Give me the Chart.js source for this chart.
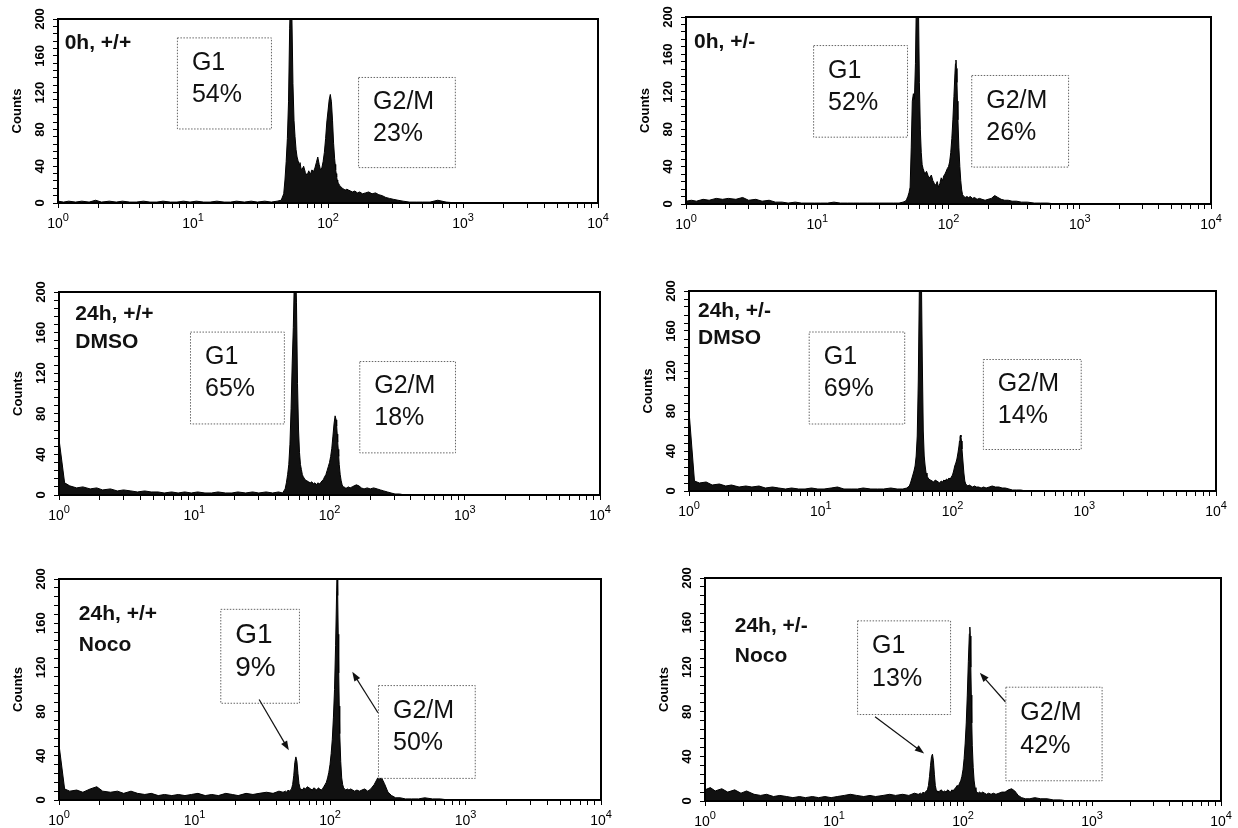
<!DOCTYPE html>
<html>
<head>
<meta charset="utf-8">
<script src="https://cdn.jsdelivr.net/npm/chart.js@4.4.1/dist/chart.umd.min.js"></script>
<style>
  html, body { margin: 0; padding: 0; background: #fff; }
  body { width: 1238px; height: 828px; position: relative; overflow: hidden; }
  canvas { position: absolute; }
</style>
</head>
<body>
<script>
const channels = [
  1, 1.1, 1.2, 1.35, 1.5, 1.7, 1.9, 2.1, 2.4, 2.7,
  3, 3.4, 3.8, 4.3, 4.8, 5.4, 6, 6.8, 7.6, 8.5,
  9.5, 10.6, 12, 13.4, 15, 17, 19, 21, 24, 27,
  30, 34, 38, 42, 45, 47, 48, 49, 50, 51,
  52, 53, 54, 55, 56, 57, 58, 59, 60, 61,
  62, 63, 64, 66, 68, 70, 72, 74, 76, 78,
  80, 82, 84, 86, 88, 90, 92, 94, 96, 98,
  100, 102, 104, 106, 108, 110, 112, 113, 114, 115,
  116, 117, 118, 120, 122, 124, 126, 128, 131, 134,
  138, 142, 147, 152, 158, 165, 172, 180, 190, 200,
  212, 225, 238, 252, 268, 285, 305, 330, 360, 400,
  450, 500, 570, 650, 750, 900, 1100, 1400, 2000, 3000,
  5000, 10000
];

// 0h, +/+
const counts0hWt = [
  2, 1, 2, 1, 2, 1, 3, 1, 2, 1,
  2, 1, 1, 2, 1, 1, 2, 1, 1, 2,
  1, 2, 1, 1, 2, 1, 1, 2, 1, 2,
  1, 2, 1, 2, 3, 10, 25, 45, 70, 110,
  190, 235, 205, 130, 90, 72, 58, 50, 46, 42,
  44, 38, 36, 40, 33, 30, 35, 31, 36, 34,
  38, 44, 50, 42, 36, 38, 45, 55, 70, 88,
  100, 112, 118, 110, 90, 65, 48, 42, 36, 32,
  28, 25, 23, 21, 19, 18, 17, 16, 15, 14,
  15, 14, 13, 12, 13, 11, 12, 10, 11, 12,
  10, 11, 9, 8, 6, 5, 4, 3, 2, 1,
  1, 1, 1, 3, 1, 0, 0, 0, 0, 0,
  0, 0
];
// 0h, +/-
const counts0hHet = [
  3, 4, 3, 5, 4, 6, 5, 6, 5, 7,
  4, 5, 3, 4, 2, 2, 1, 2, 1, 1,
  1, 1, 1, 2, 1, 1, 1, 1, 1, 1,
  1, 1, 1, 1, 2, 3, 5, 8, 12, 18,
  60, 110, 118, 112, 150, 225, 240, 215, 130, 80,
  55, 42, 38, 32, 35, 30, 28, 31, 25, 22,
  20, 24, 18, 22, 28, 25, 30, 32, 35, 38,
  40, 45, 55, 70, 90, 115, 140, 150, 154, 145,
  130, 110, 90, 60, 40, 25, 15, 10, 8, 7,
  8, 7, 8, 6, 7, 5, 6, 5, 4, 5,
  6, 9, 7, 5, 4, 4, 3, 3, 2, 2,
  1, 1, 1, 0, 0, 0, 0, 0, 0, 0,
  0, 0
];
// 24h, +/+ DMSO
const counts24hWtDmso = [
  55, 12, 9, 7, 8, 6, 7, 5, 6, 4,
  5, 4, 3, 4, 3, 3, 2, 3, 2, 3,
  2, 3, 2, 2, 3, 2, 2, 3, 2, 3,
  2, 3, 2, 3, 2, 6, 12, 20, 30, 50,
  85, 130, 165, 215, 230, 190, 110, 65, 42, 30,
  25, 20, 18, 15, 14, 13, 12, 13, 11, 12,
  10, 12, 11, 12, 14, 15, 18, 20, 24, 28,
  32, 38, 46, 58, 70, 78, 74, 68, 60, 52,
  45, 38, 30, 20, 14, 10, 8, 8, 7, 7,
  8, 7, 8, 9, 10, 9, 7, 6, 7, 6,
  7, 6, 5, 4, 3, 2, 1, 1, 0, 0,
  0, 0, 0, 0, 0, 0, 0, 0, 0, 0,
  0, 0
];
// 24h, +/- DMSO
const counts24hHetDmso = [
  80, 10, 8, 9, 6, 7, 5, 6, 4, 5,
  4, 5, 3, 4, 3, 2, 3, 2, 2, 3,
  2, 2, 3, 4, 2, 2, 2, 3, 2, 2,
  2, 3, 2, 2, 3, 5, 8, 12, 16, 20,
  25, 35, 55, 110, 200, 235, 220, 130, 60, 35,
  25, 18, 15, 12, 11, 10, 9, 11, 10, 9,
  8, 10, 9, 11, 10, 12, 11, 13, 12, 14,
  16, 20, 25, 28, 32, 38, 45, 50, 54, 56,
  54, 50, 42, 30, 18, 10, 7, 6, 5, 6,
  5, 4, 5, 4, 4, 3, 4, 3, 4, 5,
  4, 4, 3, 3, 2, 1, 1, 1, 0, 0,
  0, 0, 0, 0, 0, 0, 0, 0, 0, 0,
  0, 0
];
// 24h, +/+ Noco
const counts24hWtNoco = [
  50, 10, 8, 9, 7, 10, 12, 8, 7, 8,
  6, 8, 6, 5, 6, 4, 5, 4, 5, 4,
  5, 6, 4, 5, 4, 6, 5, 4, 6, 5,
  6, 7, 6, 8, 7, 8, 7, 9, 8, 9,
  10, 14, 22, 34, 39, 35, 24, 15, 11, 9,
  10, 9, 11, 10, 12, 11, 10, 9, 11, 10,
  9, 11, 10, 9, 10, 12, 14, 16, 20, 25,
  32, 42, 55, 75, 100, 140, 190, 215, 185, 150,
  115, 85, 60, 35, 20, 14, 11, 10, 9, 10,
  9, 10, 9, 8, 9, 8, 9, 10, 8, 10,
  14, 20, 21, 15, 7, 4, 2, 2, 1, 1,
  1, 2, 1, 1, 0, 0, 0, 0, 0, 0,
  0, 0
];
// 24h, +/- Noco
const counts24hHetNoco = [
  10, 12, 9, 11, 8, 10, 7, 9, 6, 5,
  6, 4, 5, 4, 3, 4, 3, 4, 3, 4,
  3, 4, 5, 6, 5, 4, 5, 4, 5, 6,
  5, 6, 5, 7, 6, 7, 6, 8, 7, 8,
  9, 10, 14, 22, 32, 40, 42, 36, 24, 14,
  10, 9, 8, 9, 10, 8, 9, 8, 10, 9,
  8, 10, 9, 11, 12, 14, 13, 16, 18, 22,
  28, 38, 52, 70, 95, 125, 150, 156, 148, 120,
  95, 70, 50, 30, 18, 12, 9, 8, 7, 8,
  7, 8, 7, 6, 7, 6, 7, 6, 7, 8,
  8, 10, 11, 9, 5, 3, 2, 2, 3, 2,
  2, 1, 1, 0, 0, 0, 0, 0, 0, 0,
  0, 0
];

const conditionLabels = [
  ['0h, +/+'], ['0h, +/-'],
  ['24h, +/+', 'DMSO'], ['24h, +/-', 'DMSO'],
  ['24h, +/+', 'Noco'], ['24h, +/-', 'Noco']
];
const g1Pct = ['54%', '52%', '65%', '69%', '9%', '13%'];
const g2Pct = ['23%', '26%', '18%', '14%', '50%', '42%'];

// ticks
const yTickLabels = [0, 40, 80, 120, 160, 200];
const xMajorTicks = [1, 10, 100, 1000, 10000];
const xTickExponents = ['0', '1', '2', '3', '4'];
const xMinorTicks = [
  1, 2, 3, 4, 5, 6, 7, 8, 9,
  10, 20, 30, 40, 50, 60, 70, 80, 90,
  100, 200, 300, 400, 500, 600, 700, 800, 900,
  1000, 2000, 3000, 4000, 5000, 6000, 7000, 8000, 9000,
  10000
];

// --- Layout (pixeles de pagina y posiciones en coordenadas de datos) ---
const FONT = "'Liberation Sans', Arial, sans-serif";
const Y_W = 52, X_H = 30, PAD_T = 14, PAD_R = 18;

const panels = [
  { counts: counts0hWt, area: [58, 598, 19, 203],
    label: [[1.12, 174]], g1Box: [7.6, 37.8, 180, 81], g2Box: [167, 870, 137, 39] },
  { counts: counts0hHet, area: [686, 1211, 17, 204],
    label: [[1.15, 173]], g1Box: [9.3, 48.3, 170, 72], g2Box: [149, 815, 138, 40] },
  { counts: counts24hWtDmso, area: [59, 600, 292, 495],
    label: [[1.32, 178], [1.32, 151]], g1Box: [9.3, 46, 161, 70.5], g2Box: [166, 847, 132, 42] },
  { counts: counts24hHetDmso, area: [689, 1216, 291, 491],
    label: [[1.17, 180], [1.17, 153]], g1Box: [8.1, 43, 159.5, 67.5], g2Box: [170, 940, 132, 42] },
  { counts: counts24hWtNoco, area: [59, 601, 579, 800],
    label: [[1.4, 168], [1.4, 140]], g1Box: [15.5, 59, 173, 88], g2Box: [226, 1170, 104, 20], g1Size: 28,
    arrows: [[30, 91, 49.7, 45], [226, 79, 146, 116]] },
  { counts: counts24hHetNoco, area: [705, 1221, 578, 801],
    label: [[1.7, 157], [1.7, 130]], g1Box: [15.1, 79.4, 162, 78], g2Box: [213, 1187, 102.5, 18.6],
    arrows: [[20.8, 75.6, 50, 42.6], [213, 89, 135, 115]] }
];

function drawBox(ctx, x, y, b, lines, size) {
  const x0 = x.getPixelForValue(b[0]), x1 = x.getPixelForValue(b[1]);
  const y0 = y.getPixelForValue(b[2]), y1 = y.getPixelForValue(b[3]);
  ctx.save();
  ctx.fillStyle = '#fff';
  ctx.fillRect(x0, y0, x1 - x0, y1 - y0);
  ctx.setLineDash([1.5, 1.5]);
  ctx.strokeStyle = '#666';
  ctx.lineWidth = 1;
  ctx.strokeRect(x0 + 0.5, y0 + 0.5, x1 - x0, y1 - y0);
  ctx.setLineDash([]);
  ctx.fillStyle = '#111';
  ctx.textAlign = 'left';
  ctx.textBaseline = 'middle';
  const h = y1 - y0;
  ctx.font = `${size}px ${FONT}`;
  ctx.fillText(lines[0], x0 + 15, y0 + h * 0.28);
  ctx.fillText(lines[1], x0 + 15, y0 + h * 0.63);
  ctx.restore();
}

function drawArrow(ctx, x1, y1, x2, y2) {
  const ang = Math.atan2(y2 - y1, x2 - x1);
  const head = 10;
  ctx.save();
  ctx.strokeStyle = '#111';
  ctx.fillStyle = '#111';
  ctx.lineWidth = 1.2;
  ctx.beginPath();
  ctx.moveTo(x1, y1);
  ctx.lineTo(x2 - Math.cos(ang) * head * 0.8, y2 - Math.sin(ang) * head * 0.8);
  ctx.stroke();
  ctx.beginPath();
  ctx.moveTo(x2, y2);
  ctx.lineTo(x2 - head * Math.cos(ang - 0.35), y2 - head * Math.sin(ang - 0.35));
  ctx.lineTo(x2 - head * Math.cos(ang + 0.35), y2 - head * Math.sin(ang + 0.35));
  ctx.closePath();
  ctx.fill();
  ctx.restore();
}

// etiquetas 10^n con exponente elevado, en la posicion de cada tick mayor
function drawPowerLabels(ctx, x, bottom) {
  ctx.save();
  ctx.fillStyle = '#000';
  ctx.textBaseline = 'alphabetic';
  ctx.textAlign = 'left';
  xMajorTicks.forEach((v, k) => {
    ctx.font = `14px ${FONT}`;
    const wb = ctx.measureText('10').width;
    ctx.font = `11px ${FONT}`;
    const we = ctx.measureText(xTickExponents[k]).width;
    const left = x.getPixelForValue(v) - (wb + we) / 2;
    ctx.font = `14px ${FONT}`;
    ctx.fillText('10', left, bottom + 25);
    ctx.font = `11px ${FONT}`;
    ctx.fillText(xTickExponents[k], left + wb, bottom + 18);
  });
  ctx.restore();
}

function decorPlugin(p, i) {
  return {
    id: 'decor' + i,
    afterDraw(chart) {
      const { ctx, chartArea: a, scales: { x, y } } = chart;
      ctx.save();
      ctx.strokeStyle = '#000';
      ctx.lineWidth = 2;
      ctx.strokeRect(a.left, a.top, a.right - a.left, a.bottom - a.top);

      ctx.fillStyle = '#111';
      ctx.font = `bold 21px ${FONT}`;
      ctx.textAlign = 'left';
      ctx.textBaseline = 'middle';
      conditionLabels[i].forEach((t, k) => {
        ctx.fillText(t, x.getPixelForValue(p.label[k][0]), y.getPixelForValue(p.label[k][1]));
      });
      ctx.restore();

      drawBox(ctx, x, y, p.g1Box, ['G1', g1Pct[i]], p.g1Size || 25);
      drawBox(ctx, x, y, p.g2Box, ['G2/M', g2Pct[i]], 25);

      (p.arrows || []).forEach(ar => {
        drawArrow(ctx, x.getPixelForValue(ar[0]), y.getPixelForValue(ar[1]),
                  x.getPixelForValue(ar[2]), y.getPixelForValue(ar[3]));
      });

      drawPowerLabels(ctx, x, a.bottom);
    }
  };
}

panels.forEach((p, i) => {
  const [L, R, T, B] = p.area;
  const cv = document.createElement('canvas');
  cv.width = R - L + Y_W + PAD_R;
  cv.height = B - T + PAD_T + X_H;
  cv.style.left = (L - Y_W) + 'px';
  cv.style.top = (T - PAD_T) + 'px';
  document.body.appendChild(cv);

  new Chart(cv, {
    type: 'line',
    data: {
      datasets: [{
        data: channels.map((c, k) => ({ x: c, y: p.counts[k] })),
        borderColor: '#000',
        backgroundColor: '#111',
        borderWidth: 1,
        pointRadius: 0,
        tension: 0,
        fill: 'origin'
      }]
    },
    options: {
      responsive: false,
      animation: false,
      events: [],
      layout: { padding: { left: 0, top: PAD_T, right: PAD_R, bottom: 0 } },
      plugins: { legend: { display: false }, tooltip: { enabled: false } },
      scales: {
        x: {
          type: 'logarithmic',
          min: 1, max: 10000,
          afterBuildTicks: s => { s.ticks = xMinorTicks.map(v => ({ value: v, major: xMajorTicks.includes(v) })); },
          afterFit: s => { s.height = X_H; },
          border: { display: true, color: '#000', width: 2 },
          grid: { drawOnChartArea: false, drawTicks: true, tickLength: 5, color: '#000', lineWidth: 1 },
          ticks: {
            autoSkip: false, maxRotation: 0, minRotation: 0, padding: 1,
            color: '#000', font: { family: FONT, size: 14 },
            callback: () => ''
          }
        },
        y: {
          min: 0, max: 200,
          afterFit: s => { s.width = Y_W; },
          border: { display: true, color: '#000', width: 2 },
          grid: { drawOnChartArea: false, drawTicks: true, tickLength: 5, color: '#000', lineWidth: 1 },
          title: {
            display: true, text: 'Counts', color: '#000',
            font: { family: FONT, size: 13, weight: 'bold' }, padding: { top: 4, bottom: 0 }
          },
          ticks: {
            stepSize: 8, autoSkip: false, minRotation: 90, maxRotation: 90,
            crossAlign: 'center', padding: 2, color: '#000',
            font: { family: FONT, size: 13, weight: 'bold' },
            callback: v => yTickLabels.includes(v) ? String(v) : ''
          }
        }
      }
    },
    plugins: [decorPlugin(p, i)]
  });
});
</script>
</body>
</html>
